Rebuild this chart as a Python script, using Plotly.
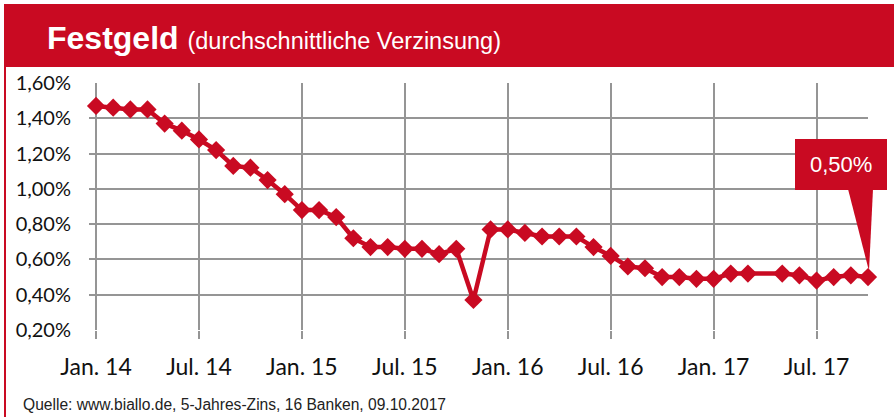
import plotly.graph_objects as go

# ---- data ----
months = [
    "Jan. 14", "Feb. 14", "Mär. 14", "Apr. 14", "Mai 14", "Jun. 14", "Jul. 14", "Aug. 14", "Sep. 14", "Okt. 14", "Nov. 14", "Dez. 14",
    "Jan. 15", "Feb. 15", "Mär. 15", "Apr. 15", "Mai 15", "Jun. 15", "Jul. 15", "Aug. 15", "Sep. 15", "Okt. 15", "Nov. 15", "Dez. 15",
    "Jan. 16", "Feb. 16", "Mär. 16", "Apr. 16", "Mai 16", "Jun. 16", "Jul. 16", "Aug. 16", "Sep. 16", "Okt. 16", "Nov. 16", "Dez. 16",
    "Jan. 17", "Feb. 17", "Mär. 17", "Apr. 17", "Mai 17", "Jun. 17", "Jul. 17", "Aug. 17", "Sep. 17", "Okt. 17",
]
rates = [
    1.47, 1.46, 1.45, 1.45, 1.37, 1.33, 1.28, 1.22, 1.13, 1.12, 1.05, 0.97,
    0.88, 0.88, 0.84, 0.72, 0.67, 0.67, 0.66, 0.66, 0.63, 0.66, 0.37, 0.77,
    0.77, 0.75, 0.73, 0.73, 0.73, 0.67, 0.62, 0.56, 0.55, 0.50, 0.50, 0.49,
    0.49, 0.52, 0.52, None, 0.52, 0.51, 0.48, 0.50, 0.51, 0.50,
]
tick_labels = ["Jan. 14", "Jul. 14", "Jan. 15", "Jul. 15", "Jan. 16", "Jul. 16", "Jan. 17", "Jul. 17"]
y_ticks = [0.2, 0.4, 0.6, 0.8, 1.0, 1.2, 1.4, 1.6]
title_main = "Festgeld"
title_sub = "(durchschnittliche Verzinsung)"
source = "Quelle: www.biallo.de, 5-Jahres-Zins, 16 Banken, 09.10.2017"
callout_text = "0,50%"

RED = "#C90A22"
GRID = "#959595"
W, H = 894, 417
L, R, T, B = 89, 868, 83, 330  # plot area in pixels

idx = list(range(len(months)))
tick_idx = [months.index(t) for t in tick_labels]
xr = [-0.41, len(months) - 1]
yr = [0.2, 1.6]


def px_x(p):
    return (p - L) / (R - L)


def px_y(p):
    return (B - p) / (B - T)


def fmt(v):
    return f"{v:.2f}%".replace(".", ",")


fig = go.Figure()
fig.add_trace(go.Scatter(
    x=idx, y=rates, mode="lines+markers", connectgaps=True, cliponaxis=False,
    line=dict(color=RED, width=4.5),
    marker=dict(symbol="diamond", size=14, color=RED),
    hoverinfo="skip", showlegend=False,
))

shapes = []
# header band
shapes.append(dict(type="rect", xref="paper", yref="paper",
                   x0=px_x(4), x1=px_x(W), y0=px_y(67), y1=px_y(4),
                   fillcolor=RED, line=dict(width=0), layer="below"))
# left red rule
shapes.append(dict(type="line", xref="paper", yref="paper",
                   x0=px_x(5), x1=px_x(5), y0=px_y(67), y1=px_y(H),
                   line=dict(color=RED, width=2)))

# callout for the last value
last_i = idx[-1]
last_v = rates[-1]
tip_x = L + (last_i - xr[0]) / (xr[1] - xr[0]) * (R - L)
tip_y = B - (last_v - yr[0]) / (yr[1] - yr[0]) * (B - T) - 6
box_x0, box_x1, box_y0, box_y1 = 795, 887, 139, 190
shapes.append(dict(type="rect", xref="paper", yref="paper",
                   x0=px_x(box_x0), x1=px_x(box_x1), y0=px_y(box_y1), y1=px_y(box_y0),
                   fillcolor=RED, line=dict(width=0)))
shapes.append(dict(type="path", xref="paper", yref="paper",
                   path=f"M {px_x(848)} {px_y(box_y1 - 1)} L {px_x(873)} {px_y(box_y1 - 1)} L {px_x(tip_x + 1)} {px_y(tip_y)} Z",
                   fillcolor=RED, line=dict(width=0)))

annotations = [
    dict(xref="paper", yref="paper", x=px_x(45), y=px_y(38), xanchor="left", yanchor="middle",
         text=f"<b>{title_main}</b> <span style='font-size:23.5px'>{title_sub}</span>",
         font=dict(family="Liberation Sans, Arial", size=32, color="white"), showarrow=False),
    dict(xref="paper", yref="paper", x=px_x((box_x0 + box_x1) / 2), y=px_y((box_y0 + box_y1) / 2),
         xanchor="center", yanchor="middle", text=fmt(last_v) if last_v is not None else callout_text,
         font=dict(family="Liberation Sans, Arial", size=22, color="white"), showarrow=False),
    dict(xref="paper", yref="paper", x=px_x(21), y=px_y(404), xanchor="left", yanchor="middle",
         text=source, font=dict(family="Liberation Sans, Arial", size=15.6, color="#222"), showarrow=False),
]

fig.update_layout(
    width=W, height=H,
    margin=dict(l=L, r=W - R, t=T, b=H - B, pad=0),
    paper_bgcolor="white", plot_bgcolor="white",
    shapes=shapes, annotations=annotations,
    xaxis=dict(range=xr, tickvals=tick_idx, ticktext=tick_labels,
               showgrid=True, gridcolor=GRID, gridwidth=2,
               ticks="outside", ticklen=8, tickwidth=2, tickcolor=GRID,
               showline=False, zeroline=False, ticklabelstandoff=8,
               tickfont=dict(family="Lato", size=23, color="#111")),
    yaxis=dict(range=yr, tickvals=y_ticks, ticktext=[fmt(v) for v in y_ticks],
               showgrid=True, gridcolor=GRID, gridwidth=2,
               ticks="", showline=False, zeroline=False, ticklabelstandoff=17,
               tickfont=dict(family="Lato", size=20, color="#111")),
)

fig.write_html("out.html", config={"displayModeBar": False},
               post_script="document.body.style.margin='0';document.body.style.overflow='hidden';")
